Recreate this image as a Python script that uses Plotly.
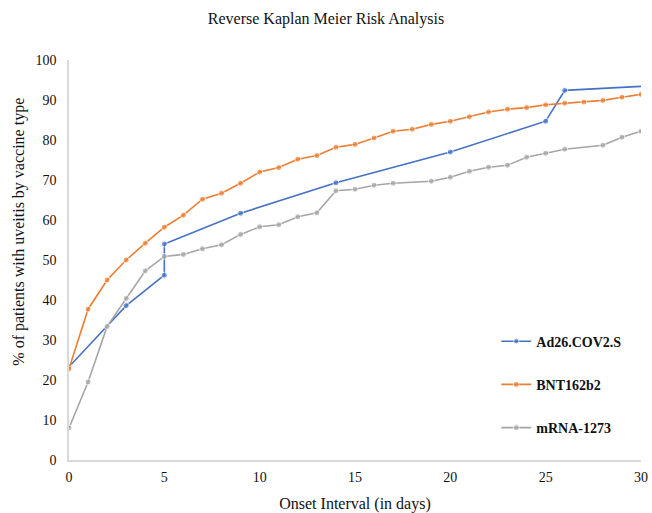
import plotly.graph_objects as go

# Data
ad26_x = [0, 3, 5, 5, 9, 14, 20, 25, 26, 30]
ad26_y = [23.3, 38.6, 46.2, 54.0, 61.7, 69.3, 77.0, 84.7, 92.4, 93.4]

bnt_x = list(range(0, 31))
bnt_y = [22.8, 37.7, 45.0, 50.0, 54.2, 58.2, 61.2, 65.2, 66.7, 69.2,
         72.0, 73.1, 75.2, 76.1, 78.2, 78.9, 80.5, 82.2, 82.7, 83.9,
         84.7, 85.8, 87.0, 87.7, 88.1, 88.8, 89.2, 89.5, 89.9, 90.7, 91.4]

mrna_x = [0, 1, 2, 3, 4, 5, 6, 7, 8, 9, 10, 11, 12, 13, 14, 15, 16, 17,
          19, 20, 21, 22, 23, 24, 25, 26, 28, 29, 30]
mrna_y = [8.0, 19.5, 33.4, 40.4, 47.3, 50.9, 51.4, 52.8, 53.8, 56.4,
          58.3, 58.8, 60.8, 61.8, 67.3, 67.7, 68.7, 69.2, 69.7, 70.7,
          72.2, 73.2, 73.7, 75.7, 76.7, 77.7, 78.7, 80.7, 82.2]

names = ["Ad26.COV2.S", "BNT162b2", "mRNA-1273"]
colors = ["#4472C4", "#ED7D31", "#A5A5A5"]

title_text = "Reverse Kaplan Meier Risk Analysis"
x_title = "Onset Interval (in days)"
y_title = "% of patients with uveitis by vaccine type"

serif = "Liberation Serif, Times New Roman, serif"

fig = go.Figure()
series = [(ad26_x, ad26_y), (bnt_x, bnt_y), (mrna_x, mrna_y)]
for i, ((xs, ys), name, c) in enumerate(zip(series, names, colors)):
    sizes = [6] * len(xs)
    if i == 0:
        sizes[-1] = 0
    fig.add_trace(go.Scatter(
        x=xs, y=ys, name=name, mode="lines+markers",
        line=dict(color=c, width=1.6),
        marker=dict(color=c, size=sizes),
        legendgroup=name,
    ))

fig.update_layout(
    width=652, height=513,
    margin=dict(l=69, r=11, t=60, b=53),
    plot_bgcolor="white", paper_bgcolor="white",
    title=dict(text=title_text, x=0.5, xanchor="center",
               y=0.965, yanchor="middle",
               font=dict(family=serif, size=16, color="#111")),
    font=dict(family=serif, size=14, color="#111"),
    xaxis=dict(range=[0, 30], tickvals=[0, 5, 10, 15, 20, 25, 30],
               showgrid=False, zeroline=False, showline=True,
               linecolor="#D9D9D9", linewidth=1.5,
               ticks="outside", ticklen=3, tickcolor="rgba(0,0,0,0)",
               automargin=False,
               title=dict(text=x_title, standoff=16,
                          font=dict(family=serif, size=16)),
               tickfont=dict(family=serif, size=14)),
    yaxis=dict(range=[0, 100], tickvals=list(range(0, 101, 10)),
               showgrid=False, zeroline=False, showline=True,
               linecolor="#D9D9D9", linewidth=1.5,
               ticks="outside", ticklen=8, tickcolor="rgba(0,0,0,0)",
               automargin=False,
               tickfont=dict(family=serif, size=14)),
    annotations=[dict(text=y_title, textangle=-90, xref="paper", yref="paper",
                      x=-0.088, y=0.57, xanchor="center", yanchor="middle",
                      showarrow=False, font=dict(family=serif, size=16, color="#111"))],
    legend=dict(x=0.747, xanchor="left", y=0.336, yanchor="top",
                traceorder="grouped", tracegroupgap=22,
                font=dict(family=serif, size=14, weight="bold", color="#111"),
                bgcolor="rgba(0,0,0,0)", itemwidth=30),
    showlegend=True,
)

fig.write_html("out.html", config={"displayModeBar": False},
               post_script="document.body.style.margin='0';")
